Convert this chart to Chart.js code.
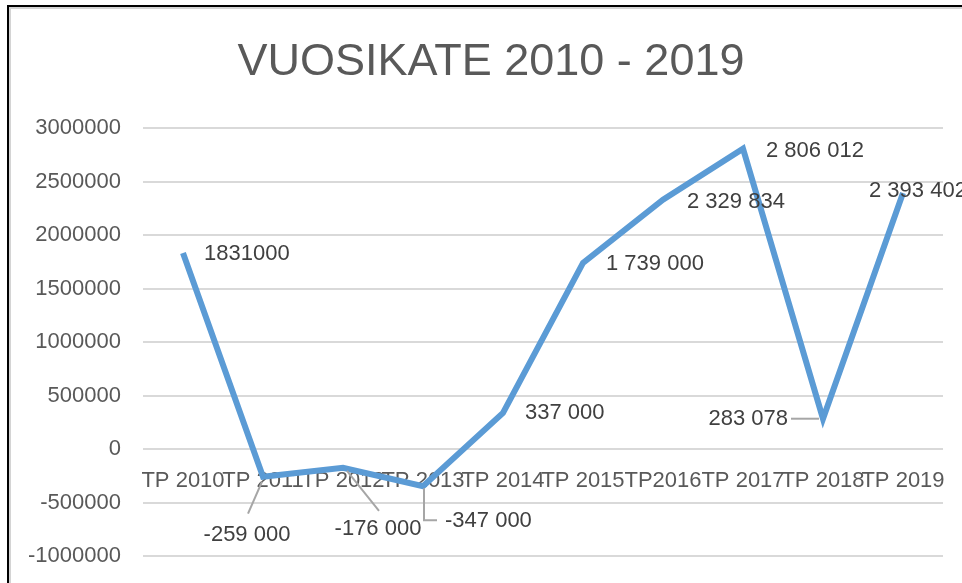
<!DOCTYPE html>
<html>
<head>
<meta charset="utf-8">
<title>Vuosikate 2010 - 2019</title>
<script src="https://cdn.jsdelivr.net/npm/chart.js@4"></script>
<style>
  html, body { margin: 0; padding: 0; background: #fff; overflow: hidden; }
  #frame {
    position: absolute; left: 7px; top: 5px; width: 1000px; height: 620px;
    border-top: 2px solid #000; border-left: 2px solid #000;
    box-shadow: inset 2px 2px 0 #d4d4d4;
  }
  #chart { position: absolute; left: 0; top: 0; }
</style>
</head>
<body>
<div id="frame"></div>
<canvas id="chart" width="962" height="583"></canvas>
<script>
const categories = ["TP 2010", "TP 2011", "TP 2012", "TP 2013", "TP 2014", "TP 2015", "TP2016", "TP 2017", "TP 2018", "TP 2019"];
const vuosikate = [1831000, -259000, -176000, -347000, 337000, 1739000, 2329834, 2806012, 283078, 2393402];
const valueLabels = ["1831000", "-259 000", "-176 000", "-347 000", "337 000", "1 739 000", "2 329 834", "2 806 012", "283 078", "2 393 402"];
const yTicks = [-1000000, -500000, 0, 500000, 1000000, 1500000, 2000000, 2500000, 3000000];

const FONT = "'Liberation Sans', Arial, sans-serif";

// where each data label sits relative to its point (pixels), plus optional leader line
const labelLayout = [
  { dx: 21, dy: 1, align: "left" },
  { dx: -16, dy: 58, align: "center", leader: [[-15, 37], [-1, 5]] },
  { dx: 35, dy: 61, align: "center", leader: [[36, 43], [4, 3]] },
  { dx: 22, dy: 35, align: "left", leader: [[1, 2], [1, 34], [14, 34]] },
  { dx: 22, dy: 0, align: "left" },
  { dx: 23, dy: 1, align: "left" },
  { dx: 24, dy: 2, align: "left" },
  { dx: 23, dy: 2, align: "left" },
  { dx: -35, dy: 0, align: "right", leader: [[-32, 0], [-4, 0]] },
  { dx: -34, dy: -2, align: "left" },
];

const dataLabelPlugin = {
  id: "dataLabels",
  afterDatasetsDraw(chart) {
    const ctx = chart.ctx;
    const meta = chart.getDatasetMeta(0);
    ctx.save();
    ctx.font = "22px " + FONT;
    ctx.textBaseline = "middle";
    meta.data.forEach((pt, i) => {
      const lay = labelLayout[i];
      if (lay.leader) {
        ctx.strokeStyle = "#a6a6a6";
        ctx.lineWidth = 2;
        ctx.beginPath();
        lay.leader.forEach(([lx, ly], j) => {
          if (j === 0) ctx.moveTo(pt.x + lx, pt.y + ly);
          else ctx.lineTo(pt.x + lx, pt.y + ly);
        });
        ctx.stroke();
      }
      ctx.fillStyle = "#404040";
      ctx.textAlign = lay.align;
      ctx.fillText(valueLabels[i], pt.x + lay.dx, pt.y + lay.dy);
    });
    ctx.restore();
  },
};

new Chart(document.getElementById("chart"), {
  type: "line",
  data: {
    labels: categories,
    datasets: [
      {
        data: vuosikate,
        borderColor: "#5b9bd5",
        borderWidth: 6,
        pointRadius: 0,
        tension: 0,
        fill: false,
      },
    ],
  },
  options: {
    responsive: false,
    animation: false,
    layout: { padding: { top: 10, right: 0, bottom: 27, left: 20 } },
    plugins: {
      legend: { display: false },
      tooltip: { enabled: false },
      title: {
        display: true,
        text: "VUOSIKATE 2010 - 2019",
        color: "#595959",
        font: { family: FONT, size: 45, weight: "normal" },
        padding: { top: 26, bottom: 38 },
      },
    },
    scales: {
      x: {
        type: "category",
        offset: true,
        position: { y: 0 },
        grid: { display: false },
        border: { display: false },
        ticks: {
          autoSkip: false,
          maxRotation: 0,
          minRotation: 0,
          padding: 11,
          color: "#595959",
          font: { family: FONT, size: 22 },
        },
      },
      y: {
        min: -1000000,
        max: 3000000,
        afterBuildTicks: (scale) => {
          scale.ticks = yTicks.map((v) => ({ value: v }));
        },
        afterFit: (scale) => {
          scale.width = 123;
        },
        // invisible tick marks give the gap between labels and plot
        grid: { color: "#d9d9d9", lineWidth: 2, drawTicks: true, tickLength: 22, tickColor: "rgba(0,0,0,0)" },
        border: { display: false },
        ticks: {
          padding: 0,
          color: "#595959",
          font: { family: FONT, size: 22 },
          callback: (v) => String(v),
        },
      },
      // empty right-hand gutter so the plot stops where the reference does
      gutter: {
        axis: "y",
        position: "right",
        grid: { display: false },
        border: { display: false },
        ticks: { display: false },
        afterFit: (scale) => {
          scale.width = 19;
        },
      },
    },
  },
  plugins: [dataLabelPlugin],
});
</script>
</body>
</html>
